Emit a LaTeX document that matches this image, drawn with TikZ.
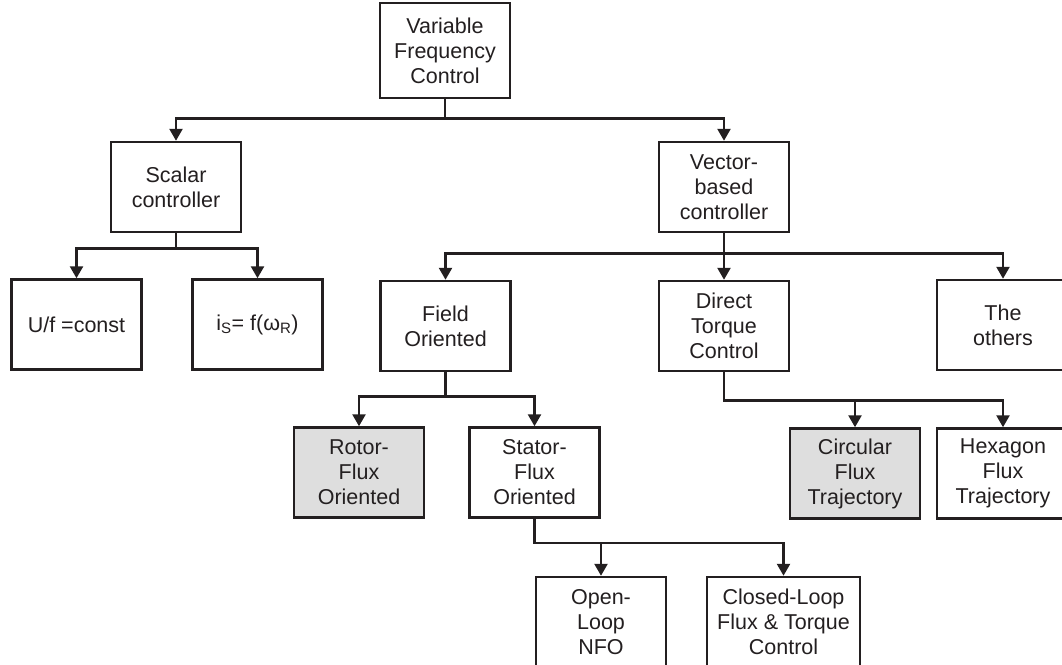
\documentclass[tikz,border=0pt]{standalone}
\usepackage{fontspec}
\setmainfont{Liberation Sans}
\usetikzlibrary{arrows.meta}
\definecolor{ink}{HTML}{231F20}
\definecolor{shade}{HTML}{DEDEDE}
\begin{document}
\begin{tikzpicture}[x=1pt,y=-1pt,
 box/.style={draw=ink, line width=2.5pt, fill=white, minimum width=130pt, minimum height=90pt, inner sep=0pt, align=center, text=ink, font=\fontsize{21.5}{25}\selectfont},
 greybox/.style={box, fill=shade},
 link/.style={draw=ink, line width=2.5pt},
 arr/.style={link, -{Triangle[length=12pt,width=13pt]}}]
\clip (0,0) rectangle (1062,664);
\fill[white] (0,0) rectangle (1062,664);
% level 1
\node[box, minimum height=95pt] (vfc) at (445,50.5) {Variable\\Frequency\\Control};
% level 2
\node[box] (scalar) at (176,187) {Scalar\\controller};
\node[box] (vector) at (724,187) {Vector-\\based\\controller};
% level 3
\node[box] (uf) at (76.5,324.5) {U/f =const};
\node[box] (is) at (257.5,324.5) {i\textsubscript{S}= f(ω\textsubscript{R})};
\node[box] (field) at (445.5,326) {Field\\Oriented};
\node[box] (dtc) at (724,326) {Direct\\Torque\\Control};
\node[box, minimum width=132pt] (others) at (1003,325) {The\\others};
% level 4
\node[greybox] (rotor) at (359,472.5) {Rotor-\\Flux\\Oriented};
\node[box] (stator) at (534.5,472.5) {Stator-\\Flux\\Oriented};
\node[greybox] (circ) at (855,473.5) {Circular\\Flux\\Trajectory};
\node[box, minimum width=132pt] (hex) at (1003,473.5) {Hexagon\\Flux\\Trajectory};
% level 5
\node[box] (open) at (601,622) {Open-\\Loop\\NFO};
\node[box, minimum width=153pt] (closed) at (783.5,622) {Closed-Loop\\Flux \& Torque\\Control};
% connectors
\draw[arr] (vfc.south) -- ++(0,19) -| (scalar.north);
\draw[arr] (vfc.south) -- ++(0,19) -| (vector.north);
\draw[arr] (scalar.south) -- ++(0,15) -| (uf.north);
\draw[arr] (scalar.south) -- ++(0,15) -| (is.north);
\draw[arr] (vector.south) -- ++(0,20) -| (field.north);
\draw[arr] (vector.south) -- (dtc.north);
\draw[arr] (vector.south) -- ++(0,20) -| (others.north);
\draw[arr] (field.south) -- ++(0,24) -| (rotor.north);
\draw[arr] (field.south) -- ++(0,24) -| (stator.north);
\draw[arr] (dtc.south) -- ++(0,28) -| (circ.north);
\draw[arr] (dtc.south) -- ++(0,28) -| (hex.north);
\draw[arr] (stator.south) -- ++(0,24) -| (open.north);
\draw[arr] (stator.south) -- ++(0,24) -| (closed.north);
\end{tikzpicture}
\end{document}
